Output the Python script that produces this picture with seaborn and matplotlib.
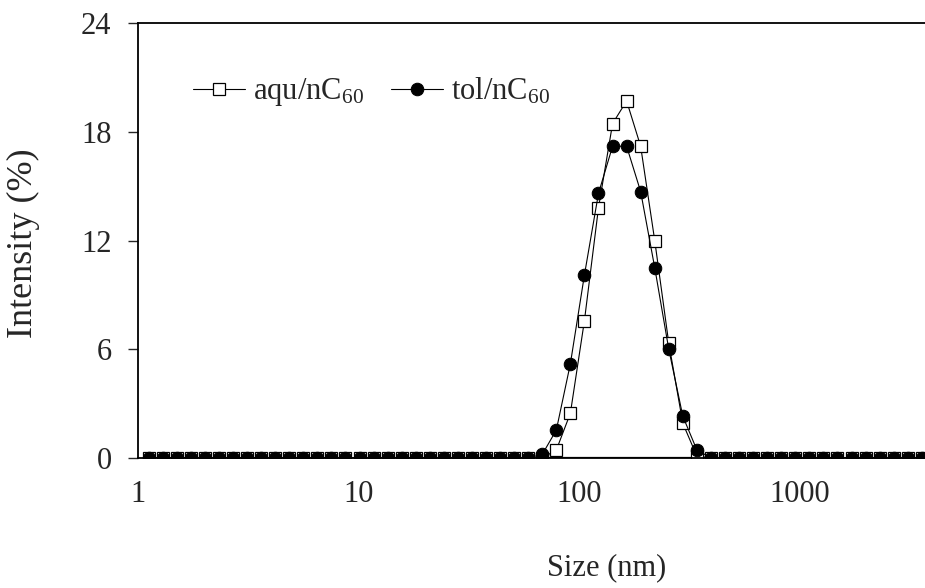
import numpy as np
import pandas as pd
import seaborn as sns
import matplotlib
matplotlib.use('Agg')
import matplotlib.pyplot as plt

# DLS size bins (nm) visible on the chart
sizes = [1.117, 1.294, 1.499, 1.736, 2.01, 2.328, 2.696, 3.122, 3.615, 4.187,
         4.849, 5.615, 6.503, 7.531, 8.721, 10.1, 11.7, 13.54, 15.69, 18.17,
         21.04, 24.36, 28.21, 32.67, 37.84, 43.82, 50.75, 58.77, 68.06, 78.82,
         91.28, 105.7, 122.4, 141.8, 164.2, 190.1, 220.2, 255.0, 295.3, 342.0,
         396.1, 458.7, 531.2, 615.1, 712.4, 825.0, 955.4, 1106, 1281, 1484,
         1718, 1990, 2305, 2669, 3091, 3580, 4145]

# intensity (%) for the peak bins 68.06 ... 342.0, zero elsewhere
aqu_peak = [0.0, 0.44, 2.47, 7.58, 13.8, 18.45, 19.7, 17.2, 12.0, 6.33, 1.91, 0.1]
tol_peak = [0.2, 1.54, 5.2, 10.1, 14.6, 17.2, 17.2, 14.7, 10.5, 6.0, 2.3, 0.44]
peak_start = sizes.index(68.06)

aqu = [0.0] * len(sizes)
tol = [0.0] * len(sizes)
aqu[peak_start:peak_start + len(aqu_peak)] = aqu_peak
tol[peak_start:peak_start + len(tol_peak)] = tol_peak

df_aqu = pd.DataFrame({'Size': sizes, 'Intensity': aqu})
df_tol = pd.DataFrame({'Size': sizes, 'Intensity': tol})

sns.set_style('ticks')
plt.rcParams['font.family'] = ['Liberation Serif', 'DejaVu Serif']
plt.rcParams['mathtext.fontset'] = 'custom'
plt.rcParams['mathtext.rm'] = 'Liberation Serif'
plt.rcParams['mathtext.it'] = 'Liberation Serif:italic'

fig = plt.figure(figsize=(9.25, 5.88), dpi=100)
ax = fig.add_axes([138 / 925, 1 - 458 / 588, 787 / 925, 435 / 588])

# baseline segment under the peak, as in the original
peak_end = peak_start + len(aqu_peak)
ax.hlines(0, sizes[peak_start], sizes[peak_end], colors='black', lw=1.6, zorder=1)

sns.lineplot(data=df_aqu, x='Size', y='Intensity', ax=ax, color='black', lw=0.8,
             marker='s', markersize=8, markerfacecolor='white',
             markeredgecolor='black', markeredgewidth=0.9, label='aqu/nC$_{60}$',
             zorder=2)
sns.lineplot(data=df_tol, x='Size', y='Intensity', ax=ax, color='black', lw=0.8,
             marker='o', markersize=9, markerfacecolor='black',
             markeredgecolor='black', label='tol/nC$_{60}$', zorder=3)

ax.set_xscale('log')
ax.set_xlim(1, 3700)
ax.set_ylim(0, 24)
ax.set_yticks([0, 6, 12, 18, 24])
ax.set_xticks([1, 10, 100, 1000])
ax.set_xticklabels(['1', '10', '100', '1000'])
ax.minorticks_off()

ax.tick_params(axis='x', length=0, pad=16, labelsize=22)
ax.tick_params(axis='y', length=7, width=1, pad=12, labelsize=22, direction='out')

ax.set_xlabel('Size (nm)', fontsize=22)
ax.set_ylabel('Intensity (%)', fontsize=26)
ax.xaxis.set_label_coords((607 - 138) / 787, (458 - 553) / 435)
ax.yaxis.set_label_coords((40 - 138) / 787, (458 - 243) / 435)

for side in ['left', 'top', 'bottom']:
    ax.spines[side].set_color('black')
    ax.spines[side].set_linewidth(1.3)
ax.spines['right'].set_visible(False)

leg = ax.legend(loc='upper left', bbox_to_anchor=((193 - 138) / 787, (458 - 76) / 435),
                ncol=2, frameon=False, fontsize=22, borderpad=0, borderaxespad=0,
                handlelength=1.7, handletextpad=0.25, columnspacing=0.9)

fig.savefig('out.png', dpi=100)
